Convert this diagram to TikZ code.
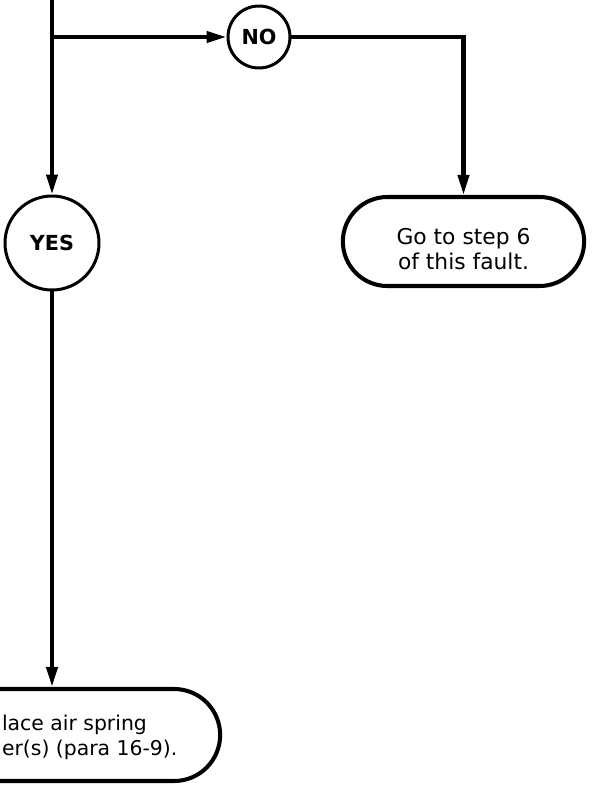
\documentclass[tikz,border=0pt]{standalone}
\usepackage{fontspec}
\setmainfont{DejaVu Sans}
\usetikzlibrary{positioning, arrows.meta, shapes.misc}

\begin{document}
\begin{tikzpicture}[
    line width=2.3pt,                               % 全体の線を太めにする
    >={Triangle[length=0.4cm, width=0.22cm]},       % 細長い三角の矢じり
    font=\fontsize{12.4}{14.2}\selectfont,          % 本文のフォントサイズ
    answer/.style={circle, draw, line width=1.7pt, inner sep=0pt,
                   font=\fontsize{11.8}{13}\selectfont\bfseries},
    endbox/.style={rounded rectangle, draw, line width=2.3pt, align=center}
]

    % --- 0. 画像の範囲を固定 ---
    \useasboundingbox (0, 0) rectangle (11.86, -15.7);

    % --- 1. 幹線と分岐点 ---
    \coordinate (top) at (1.04, 0);
    \coordinate (branch) at (1.04, -0.74);

    % --- 2. 判定（YES / NO）の丸 ---
    \node [answer, minimum size=1.24cm] (no) at (5.18, -0.74) {NO};
    \node [answer, minimum size=1.88cm] (yes) at (1.04, -4.86) {YES};

    % --- 3. 結果のボックス ---
    % 【NO 側】
    \node [endbox, minimum width=5.06cm, minimum height=1.78cm] (gostep) at (9.27, -4.83) {};
    \node [align=center, inner sep=0pt] (gosteptext) at (9.27, -4.99)
        {Go to step 6\\of this fault.};
    % 【YES 側】（左端は画像の外にはみ出す）
    \node [endbox, minimum width=6.96cm, minimum height=1.84cm] (replace) at (1.04, -14.7) {};
    \node [anchor=west, align=left, inner sep=0pt, font=\fontsize{11.6}{14.2}\selectfont]
        (replacetext) at (0.0, -14.75)
        {lace air spring\\er(s) (para 16-9).};

    % --- 4. 矢印 ---
    \draw [->] (top) -- (yes);
    \draw [->] (branch) -- (no);
    \draw [->] (no) -| (gostep);
    \draw [->] (yes) -- (replace);

\end{tikzpicture}
\end{document}
